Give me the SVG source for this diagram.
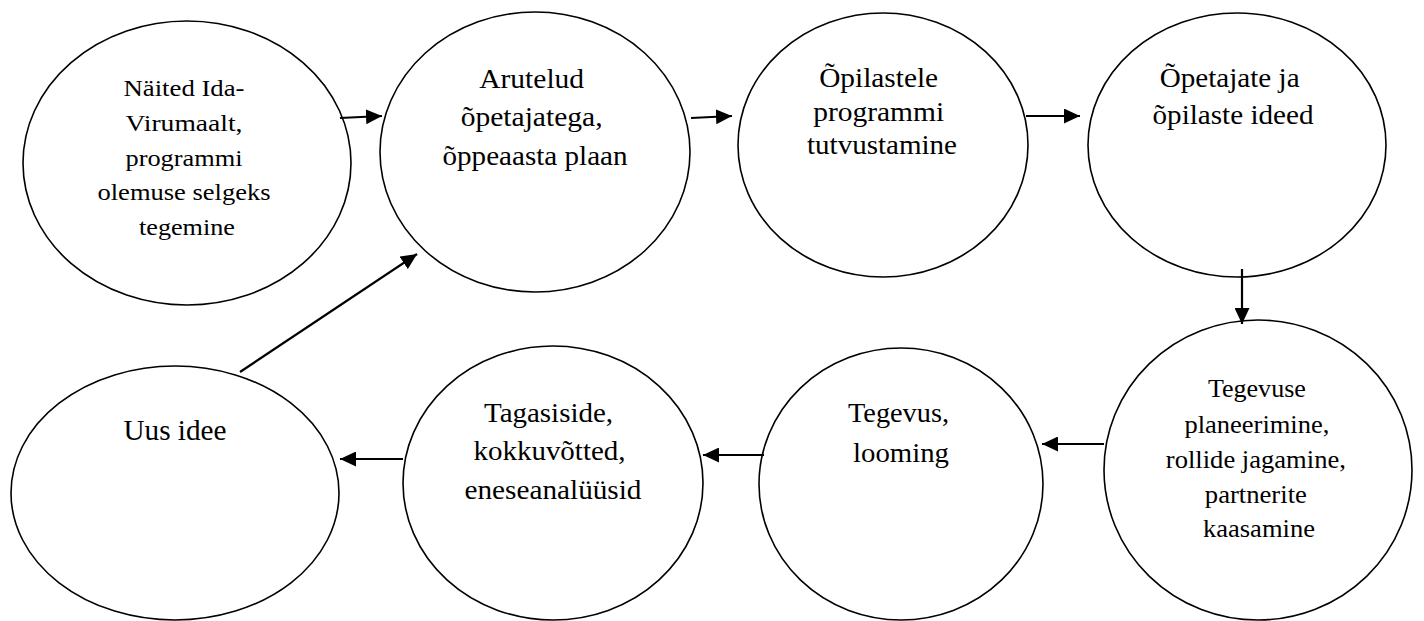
<svg xmlns="http://www.w3.org/2000/svg" width="1424" height="621" viewBox="0 0 1424 621">
<style>
.node ellipse{fill:#fff;stroke:#000;stroke-width:1.6}
.node text{fill:#000;text-anchor:middle;font-family:'Liberation Serif','Times New Roman',serif;font-size:24px}
.conn line{stroke:#000;stroke-width:2.2;marker-end:url(#ah)}
</style>
<defs>
<marker id="ah" markerUnits="userSpaceOnUse" markerWidth="16" markerHeight="15" refX="16" refY="7.5" orient="auto">
<path d="M0,0 L16,7.5 L0,15 z" fill="#000"/>
</marker>
</defs>
<rect width="1424" height="621" fill="#fff"/>
<g id="n1" class="node">
<ellipse cx="187" cy="163" rx="164" ry="142"/>
<text>
<tspan x="187" y="96" textLength="121" lengthAdjust="spacingAndGlyphs">Näited Ida-</tspan>
<tspan x="187" y="131" textLength="117" lengthAdjust="spacingAndGlyphs">Virumaalt,</tspan>
<tspan x="187" y="166" textLength="117" lengthAdjust="spacingAndGlyphs">programmi</tspan>
<tspan x="187" y="200" textLength="173" lengthAdjust="spacingAndGlyphs">olemuse selgeks</tspan>
<tspan x="187" y="235" textLength="96" lengthAdjust="spacingAndGlyphs">tegemine</tspan>
</text>
</g>
<g id="n2" class="node">
<ellipse cx="535" cy="152" rx="155" ry="140"/>
<text transform="translate(535,88) scale(1.125)">
<tspan x="0" y="0" textLength="93.33" lengthAdjust="spacingAndGlyphs">Arutelud</tspan>
<tspan x="0" y="33.78" textLength="126.22" lengthAdjust="spacingAndGlyphs">õpetajatega,</tspan>
<tspan x="0" y="68.44" textLength="164.44" lengthAdjust="spacingAndGlyphs">õppeaasta plaan</tspan>
</text>
</g>
<g id="n3" class="node">
<ellipse cx="883" cy="145" rx="145" ry="132"/>
<text transform="translate(882,87) scale(1.125)">
<tspan x="0" y="0" textLength="105.78" lengthAdjust="spacingAndGlyphs">Õpilastele</tspan>
<tspan x="0" y="30.22" textLength="116.44" lengthAdjust="spacingAndGlyphs">programmi</tspan>
<tspan x="0" y="59.56" textLength="133.33" lengthAdjust="spacingAndGlyphs">tutvustamine</tspan>
</text>
</g>
<g id="n4" class="node">
<ellipse cx="1237" cy="145" rx="149" ry="132"/>
<text transform="translate(1233,87) scale(1.125)">
<tspan x="0" y="0" textLength="124.44" lengthAdjust="spacingAndGlyphs">Õpetajate ja</tspan>
<tspan x="0" y="32.89" textLength="143.11" lengthAdjust="spacingAndGlyphs">õpilaste ideed</tspan>
</text>
</g>
<g id="n5" class="node">
<ellipse cx="1258" cy="470" rx="154" ry="150"/>
<text transform="translate(1260,397) scale(1.0417)">
<tspan x="0" y="0" textLength="94.08" lengthAdjust="spacingAndGlyphs">Tegevuse</tspan>
<tspan x="0" y="34.56" textLength="139.2" lengthAdjust="spacingAndGlyphs">planeerimine,</tspan>
<tspan x="-1" y="68.16" textLength="172.8" lengthAdjust="spacingAndGlyphs">rollide jagamine,</tspan>
<tspan x="-1" y="101.76" textLength="97.92" lengthAdjust="spacingAndGlyphs">partnerite</tspan>
<tspan x="-1" y="134.4" textLength="107.52" lengthAdjust="spacingAndGlyphs">kaasamine</tspan>
</text>
</g>
<g id="n6" class="node">
<ellipse cx="901" cy="484" rx="142" ry="136"/>
<text transform="translate(902,422) scale(1.1667)">
<tspan x="0" y="0" textLength="86.57" lengthAdjust="spacingAndGlyphs">Tegevus,</tspan>
<tspan x="-0.86" y="34.29" textLength="82.29" lengthAdjust="spacingAndGlyphs">looming</tspan>
</text>
</g>
<g id="n7" class="node">
<ellipse cx="553" cy="483" rx="150" ry="137"/>
<text transform="translate(553,422) scale(1.1667)">
<tspan x="-0.86" y="0" textLength="110.57" lengthAdjust="spacingAndGlyphs">Tagasiside,</tspan>
<tspan x="0" y="32.57" textLength="130.29" lengthAdjust="spacingAndGlyphs">kokkuvõtted,</tspan>
<tspan x="0" y="66" textLength="151.71" lengthAdjust="spacingAndGlyphs">eneseanalüüsid</tspan>
</text>
</g>
<g id="n8" class="node">
<ellipse cx="175" cy="493" rx="164" ry="127"/>
<text transform="translate(175,440) scale(1.2083)">
<tspan x="0" y="0" textLength="85.24" lengthAdjust="spacingAndGlyphs">Uus idee</tspan>
</text>
</g>
<g id="connectors" class="conn">
<line x1="340" y1="118" x2="382" y2="116"/>
<line x1="691" y1="118" x2="732" y2="116"/>
<line x1="1026" y1="116" x2="1080" y2="116"/>
<line x1="1242" y1="269" x2="1242" y2="324"/>
<line x1="1104" y1="444" x2="1042" y2="444"/>
<line x1="764" y1="455" x2="703" y2="455"/>
<line x1="403" y1="459" x2="340" y2="459"/>
<line x1="240" y1="372" x2="417" y2="254"/>
</g>
</svg>
